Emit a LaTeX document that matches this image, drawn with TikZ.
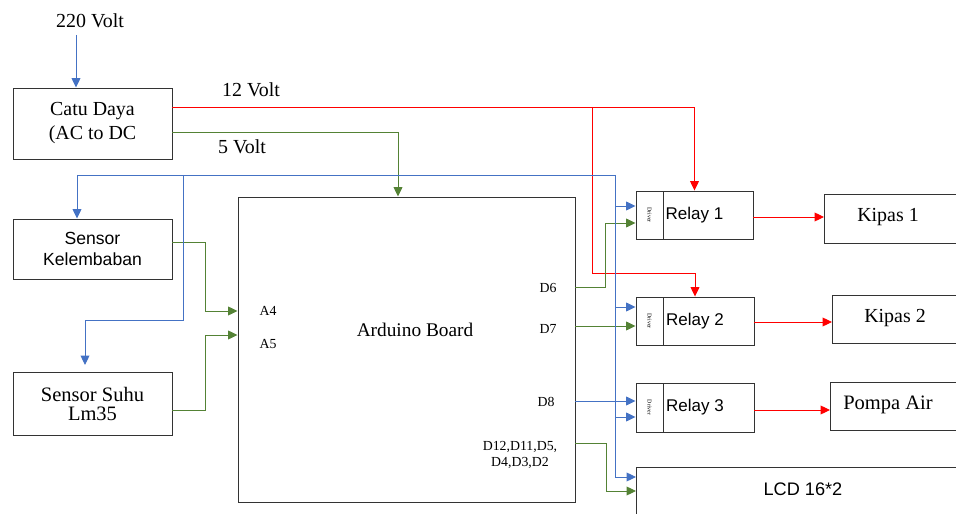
\documentclass[tikz,border=0pt]{standalone}
\usepackage{fontspec}
\setmainfont{Liberation Serif}
\setsansfont{Liberation Sans}
\usetikzlibrary{arrows.meta}
\definecolor{wireblue}{HTML}{4472C4}
\definecolor{wiregreen}{HTML}{548235}
\definecolor{wirered}{HTML}{FF0000}

\begin{document}
\begin{tikzpicture}[x=0.03cm,y=-0.03cm,
  every node/.style={inner sep=0pt},
  box/.style={draw=black!80,line width=.8pt},
  serif/.style={font=\fontsize{17}{20.5}\selectfont},
  sans/.style={font=\sffamily\fontsize{14.5}{18}\selectfont},
  pin/.style={font=\fontsize{11.8}{13.6}\selectfont},
  wire/.style={line width=.8pt},
  bw/.style={wire,draw=wireblue},
  gw/.style={wire,draw=wiregreen},
  rw/.style={wire,draw=wirered},
  tip/.style={-{Triangle[length=8pt,width=7.5pt]}}]
\useasboundingbox (0,0) rectangle (956,514);
\clip (0,0) rectangle (956,514);
% power supply and sensors
\node[serif] (v220) at (90,21) {220 Volt};
\node[box,serif,minimum width=4.77cm,minimum height=2.13cm,align=center] (catu) at (92.5,123.5) {Catu Daya\\(AC to DC};
\node[box,sans,font=\sffamily\fontsize{15}{18}\selectfont,minimum width=4.77cm,minimum height=1.8cm,align=center] (kel) at (92.5,249) {Sensor\\Kelembaban};
\node[box,font=\fontsize{17.5}{16.5}\selectfont,minimum width=4.77cm,minimum height=1.89cm,align=center] (suhu) at (92.5,404) {Sensor Suhu\\Lm35};
\node[serif] (v12) at (251,90) {12 Volt};
\node[serif] (v5) at (242,147) {5 Volt};
% arduino
\node[box,minimum width=10.11cm,minimum height=9.15cm] (ard) at (406.5,349.5) {};
\node[font=\fontsize{16.5}{20}\selectfont] (ardtxt) at (415,330) {Arduino Board};
\node[pin] (pA4) at (268,311) {A4};
\node[pin] (pA5) at (268,344) {A5};
\node[pin] (pD6) at (548,288) {D6};
\node[pin] (pD7) at (548,329) {D7};
\node[pin] (pD8) at (546,402) {D8};
\node[pin,align=center] (pD12) at (520,455) {D12,D11,D5,\\D4,D3,D2};
% relays
\node[box,sans,minimum width=3.51cm,minimum height=1.44cm] (relay1) at (694.5,215) {Relay 1};
\node[box,minimum width=0.81cm,minimum height=1.44cm,anchor=west] (drv1) at (relay1.west) {};
\node[font=\fontsize{5}{6}\selectfont,rotate=-90] (drv1txt) at (drv1) {Driver};
\node[box,sans,minimum width=3.54cm,minimum height=1.44cm] (relay2) at (695,321) {Relay 2};
\node[box,minimum width=0.81cm,minimum height=1.44cm,anchor=west] (drv2) at (relay2.west) {};
\node[font=\fontsize{5}{6}\selectfont,rotate=-90] (drv2txt) at (drv2) {Driver};
\node[box,sans,minimum width=3.54cm,minimum height=1.47cm] (relay3) at (695,407.5) {Relay 3};
\node[box,minimum width=0.81cm,minimum height=1.47cm,anchor=west] (drv3) at (relay3.west) {};
\node[font=\fontsize{5}{6}\selectfont,rotate=-90] (drv3txt) at (drv3) {Driver};
% loads
\node[box,minimum width=5cm,minimum height=1.47cm,anchor=west] (kipas1) at (824,218.5) {};
\node[serif] (kipas1txt) at (888,217) {Kipas 1};
\node[box,minimum width=5cm,minimum height=1.44cm,anchor=west] (kipas2) at (832,319) {};
\node[serif] (kipas2txt) at (895,318) {Kipas 2};
\node[box,minimum width=5cm,minimum height=1.44cm,anchor=west] (pompa) at (830,406) {};
\node[font=\fontsize{17.5}{20}\selectfont] (pompatxt) at (888,405) {Pompa Air};
\node[box,minimum width=10cm,minimum height=1.5cm,anchor=west] (lcd) at (636,492) {};
\node[sans,font=\sffamily\fontsize{15.5}{18}\selectfont] (lcdtxt) at (803,489) {LCD 16*2};
% 220 V in
\coordinate (acin) at (76,35);
\draw[bw,tip] (acin) -- (catu.north -| acin);
% 12 V
\coordinate (rsplit) at (592,107);
\draw[rw,tip] (catu.east |- rsplit) -| (relay1.north);
\draw[rw,tip] (rsplit) |- (relay2.north |- 0,273) -- (relay2.north);
\draw[rw,tip] (relay1.east |- 0,217) -- (kipas1.west |- 0,217);
\draw[rw,tip] (relay2.east |- 0,322) -- (kipas2.west |- 0,322);
\draw[rw,tip] (relay3.east |- 0,410) -- (pompa.west |- 0,410);
% 5 V and signals
\draw[gw,tip] (catu.east |- 0,132) -| (ard.north -| 398,0);
\draw[gw,tip] (kel.east |- 0,242) -| (205,311) -- (ard.west |- pA4);
\draw[gw,tip] (suhu.east |- 0,410) -| (205,335) -- (ard.west |- 0,335);
\draw[gw,tip] (ard.east |- 0,287) -| (605,223) -- (drv1.west |- 0,223);
\draw[gw,tip] (ard.east |- 0,326) -- (drv2.west |- 0,326);
\draw[gw,tip] (ard.east |- 0,443) -| (606,491) -- (lcd.west |- 0,491);
% blue bus
\coordinate (bsplit) at (77,175);
\coordinate (bbus) at (615,175);
\draw[bw] (bsplit) -- (bbus);
\draw[bw,tip] (bsplit) -- (kel.north -| bsplit);
\draw[bw,tip] (183,175) |- (85,320) -- ([yshift=6pt]suhu.north -| 85,0);
\draw[bw,tip] (bbus) |- (lcd.west |- 0,477);
\draw[bw,tip] (bbus |- 0,206) -- (drv1.west |- 0,206);
\draw[bw,tip] (bbus |- 0,307) -- (drv2.west |- 0,307);
\draw[bw,tip] (bbus |- 0,417) -- (drv3.west |- 0,417);
\draw[bw,tip] (ard.east |- 0,401) -- (drv3.west |- 0,401);
\end{tikzpicture}
\end{document}
